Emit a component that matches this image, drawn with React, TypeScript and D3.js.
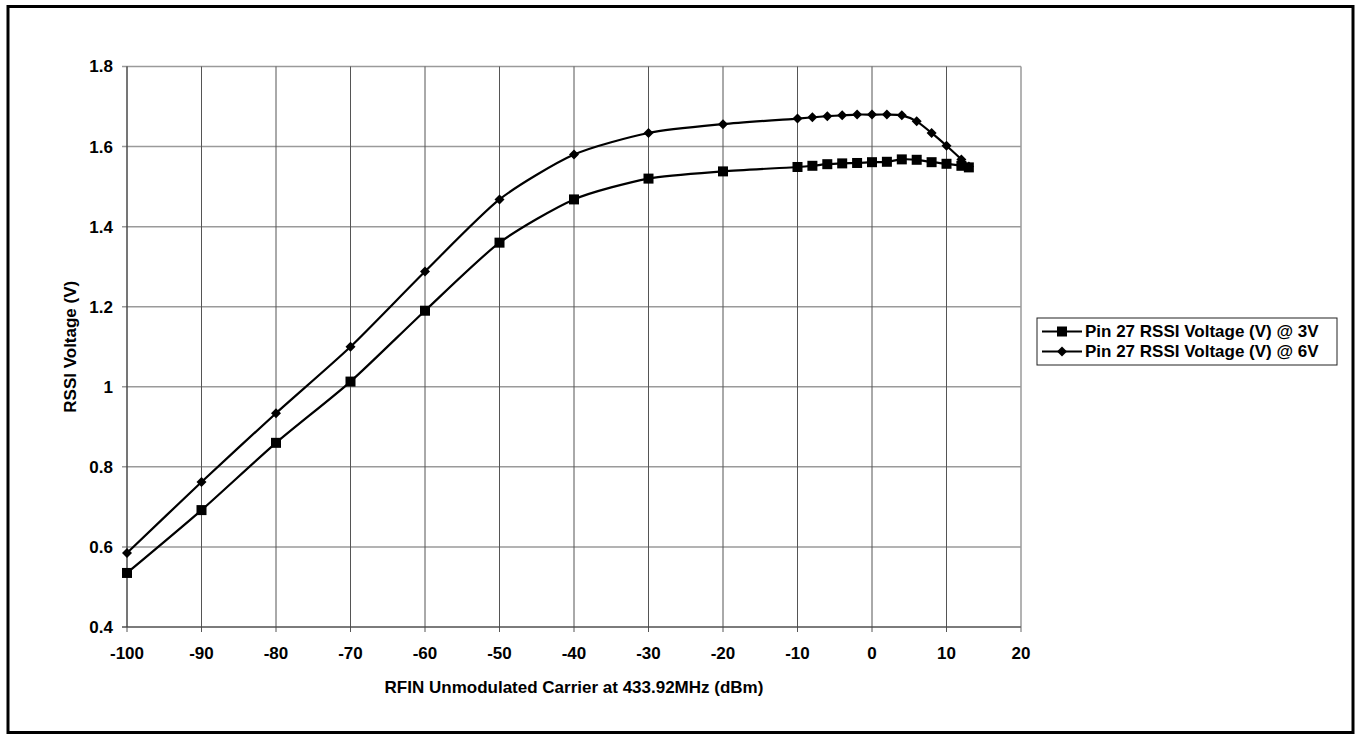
import React from "react";
import * as d3 from "d3";

const xValues = [-100, -90, -80, -70, -60, -50, -40, -30, -20, -10, -8, -6, -4, -2, 0, 2, 4, 6, 8, 10, 12, 13];
const rssi3V = [0.535, 0.692, 0.86, 1.013, 1.19, 1.36, 1.468, 1.52, 1.538, 1.549, 1.552, 1.556, 1.558, 1.559, 1.561, 1.562, 1.568, 1.567, 1.561, 1.557, 1.552, 1.548];
const rssi6V = [0.585, 0.762, 0.934, 1.1, 1.288, 1.468, 1.58, 1.634, 1.656, 1.67, 1.673, 1.676, 1.678, 1.68, 1.68, 1.68, 1.678, 1.663, 1.634, 1.602, 1.568, 1.55];
const xTicks = [-100, -90, -80, -70, -60, -50, -40, -30, -20, -10, 0, 10, 20];
const yTicks = [0.4, 0.6, 0.8, 1.0, 1.2, 1.4, 1.6, 1.8];
const seriesNames = ["Pin 27 RSSI Voltage (V) @ 3V", "Pin 27 RSSI Voltage (V) @ 6V"];
const xTitle = "RFIN Unmodulated Carrier at 433.92MHz (dBm)";
const yTitle = "RSSI Voltage (V)";

const W = 1360, H = 735;
const L = 127, R = 1021, T = 66.5, B = 627;
const FONT = "'Liberation Sans', Arial, Helvetica, sans-serif";

export default function App() {
  const x = d3.scaleLinear().domain([-100, 20]).range([L, R]);
  const y = d3.scaleLinear().domain([0.4, 1.8]).range([B, T]);
  const line = d3
    .line<[number, number]>()
    .x((d) => x(d[0]))
    .y((d) => y(d[1]))
    .curve(d3.curveCardinal.tension(0.3));
  const s3 = xValues.map((v, i) => [v, rssi3V[i]] as [number, number]);
  const s6 = xValues.map((v, i) => [v, rssi6V[i]] as [number, number]);
  const sq = 10;
  const dm = 5;
  const diamond = (cx: number, cy: number) =>
    `M${cx},${cy - dm}L${cx + dm},${cy}L${cx},${cy + dm}L${cx - dm},${cy}Z`;

  const legX = 1037, legY = 318, legW = 300, legH = 47;
  const rows = [331.5, 351.5];

  return (
    <svg
      width={W}
      height={H}
      style={{ position: "absolute", left: 0, top: 0, background: "#fff" }}
      fontFamily={FONT}
    >
      <rect x={0} y={0} width={W} height={H} fill="#fff" />
      <rect x={8} y={6.5} width={1345} height={726} fill="none" stroke="#000" strokeWidth={3} />

      {/* horizontal grid */}
      {yTicks.map((t) => (
        <line key={"h" + t} x1={L - 5} x2={R} y1={y(t)} y2={y(t)} stroke="#9a9a9a" strokeWidth={1.5} />
      ))}
      {/* vertical grid */}
      {xTicks.map((t) => (
        <line key={"v" + t} x1={x(t)} x2={x(t)} y1={T} y2={B + 5} stroke={t === 20 ? "#9a9a9a" : "#555"} strokeWidth={t === 20 ? 1.5 : 1} />
      ))}
      <line x1={L} x2={L} y1={T} y2={B} stroke="#444" strokeWidth={1} />
      <line x1={L - 5} x2={R} y1={B} y2={B} stroke="#444" strokeWidth={1} />

      {/* y tick labels */}
      {yTicks.map((t) => (
        <text key={"yl" + t} x={113} y={y(t)} dy="0.35em" textAnchor="end" fontSize={17} fontWeight="bold">
          {d3.format("~g")(t)}
        </text>
      ))}
      {/* x tick labels */}
      {xTicks.map((t) => (
        <text key={"xl" + t} x={x(t)} y={653} dy="0.35em" textAnchor="middle" fontSize={17} fontWeight="bold">
          {t}
        </text>
      ))}
      <text x={(L + R) / 2} y={687} dy="0.35em" textAnchor="middle" fontSize={17} fontWeight="bold">
        {xTitle}
      </text>
      <text
        transform={`translate(70,${(T + B) / 2}) rotate(-90)`}
        dy="0.35em"
        textAnchor="middle"
        fontSize={17}
        fontWeight="bold"
      >
        {yTitle}
      </text>

      {/* series */}
      <path d={line(s3) || ""} fill="none" stroke="#000" strokeWidth={2.2} />
      <path d={line(s6) || ""} fill="none" stroke="#000" strokeWidth={2.2} />
      {s3.map((d, i) => (
        <rect key={"s" + i} x={x(d[0]) - sq / 2} y={y(d[1]) - sq / 2} width={sq} height={sq} fill="#000" />
      ))}
      {s6.map((d, i) => (
        <path key={"d" + i} d={diamond(x(d[0]), y(d[1]))} fill="#000" />
      ))}

      {/* legend */}
      <rect x={legX} y={legY} width={legW} height={legH} fill="#fff" stroke="#222" strokeWidth={1} />
      {seriesNames.map((n, i) => (
        <g key={n}>
          <line x1={1042} x2={1082} y1={rows[i]} y2={rows[i]} stroke="#000" strokeWidth={2.2} />
          {i === 0 ? (
            <rect x={1062 - sq / 2} y={rows[i] - sq / 2} width={sq} height={sq} fill="#000" />
          ) : (
            <path d={diamond(1062, rows[i])} fill="#000" />
          )}
          <text x={1085} y={rows[i]} dy="0.35em" fontSize={17} fontWeight="bold">
            {n}
          </text>
        </g>
      ))}
    </svg>
  );
}
